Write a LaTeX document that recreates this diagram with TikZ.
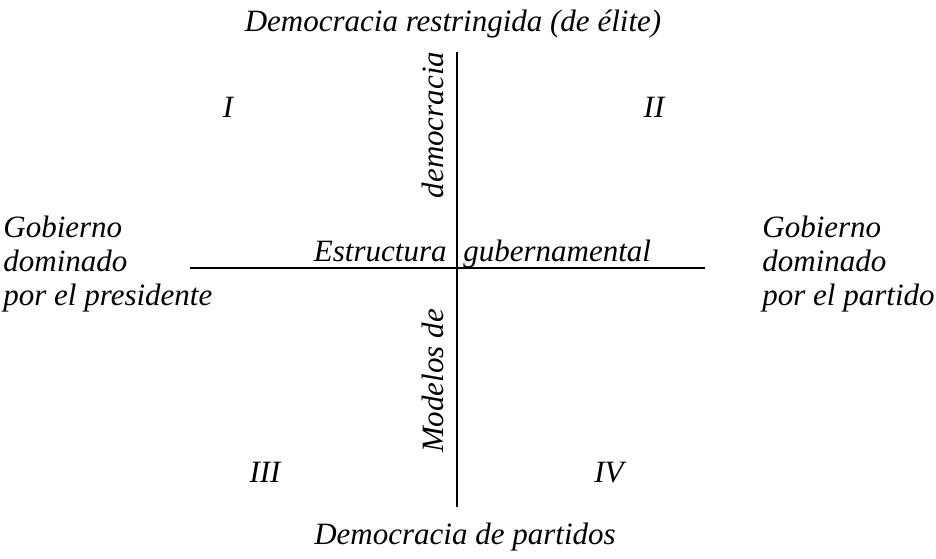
\documentclass[tikz,border=0pt]{standalone}
\usepackage{fontspec}
\setmainfont{Liberation Serif}
\usetikzlibrary{positioning}
\tikzstyle{heading} = [font=\itshape\fontsize{15.5}{17}\selectfont, inner sep=0pt]
\tikzstyle{sidetext} = [heading, align=left, anchor=west]
\tikzstyle{quadrant} = [heading, anchor=base]
\tikzstyle{axisline} = [draw, line width=1pt]

\begin{document}
\begin{tikzpicture}[x=0.5pt, y=-0.5pt]
            \useasboundingbox (0,0) rectangle (936,558);

            % axes
            \coordinate (top)    at (457, 52);
            \coordinate (bottom) at (457, 507);
            \coordinate (left)   at (190, 268);
            \coordinate (right)  at (705, 268);
            \path[axisline] (top) -- (bottom);
            \path[axisline] (left) -- (right);

            % poles
            \node[heading, anchor=base] (elite) at (453, 31){
                Democracia restringida (de élite)
            };
            \node[heading, anchor=base] (partidos) at (465, 544){
                Democracia de partidos
            };
            \node[sidetext] (presidente) at (3, 264){
                Gobierno\\ dominado\\ por el presidente
            };
            \node[sidetext] (partido) at (762, 264){
                Gobierno\\ dominado\\ por el partido
            };

            % axis titles
            \node[heading, anchor=base east] (estructura) at (447, 261){
                Estructura
            };
            \node[heading, anchor=base west] (gubernamental) at (463, 261){
                gubernamental
            };
            \node[heading, anchor=base, rotate=90] (democracia) at (443, 125){
                democracia
            };
            \node[heading, anchor=base, rotate=90] (modelos) at (443, 381){
                Modelos de
            };

            % quadrants
            \node[quadrant] (q1) at (228, 117){I};
            \node[quadrant] (q2) at (654, 117){II};
            \node[quadrant] (q3) at (265, 482){III};
            \node[quadrant] (q4) at (609, 482){IV};
        \end{tikzpicture}
\end{document}
